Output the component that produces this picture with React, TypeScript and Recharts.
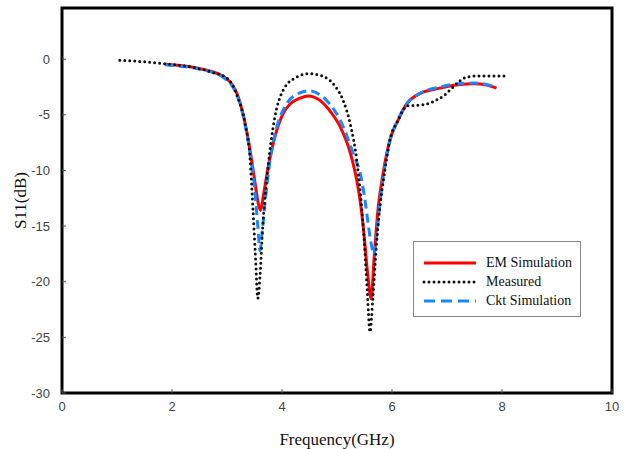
import {
  LineChart,
  Line,
  XAxis,
  YAxis,
  ReferenceArea,
  Label,
} from "recharts";

type Pt = { f: number; s11: number };

const xTicks = [0, 2, 4, 6, 8, 10];
const yTicks = [-30, -25, -20, -15, -10, -5, 0];

// [GHz, dB]
const emSimulation: [number, number][] = [
  [1.87, -0.45], [2.2, -0.6], [2.45, -0.8], [2.75, -1.15], [2.95, -1.6],
  [3.08, -2.2], [3.19, -3.2], [3.29, -4.9], [3.42, -8.2], [3.51, -11.1],
  [3.57, -13], [3.61, -13.6], [3.66, -12.3], [3.73, -10.2], [3.87, -7],
  [4.02, -4.9], [4.15, -4.0], [4.33, -3.5], [4.47, -3.3], [4.69, -3.7],
  [4.88, -4.7], [5.05, -6.0], [5.24, -8.4], [5.36, -10.9], [5.42, -12.7],
  [5.48, -15.2], [5.56, -19.4], [5.62, -21.5], [5.68, -17.5], [5.75, -13.3],
  [5.84, -10.2], [5.96, -7.3], [6.11, -5.5], [6.27, -4.0], [6.5, -3.1],
  [6.87, -2.6], [7.2, -2.3], [7.5, -2.2], [7.7, -2.3], [7.9, -2.6],
];

const measured: [number, number][] = [
  [1.05, -0.1], [1.4, -0.2], [1.84, -0.4], [2.45, -0.8], [2.75, -1.2],
  [3.0, -1.7], [3.1, -2.3], [3.2, -3.5], [3.33, -5.8], [3.42, -9],
  [3.47, -13.3], [3.52, -18], [3.56, -21.5], [3.6, -19.5], [3.65, -15],
  [3.72, -11], [3.78, -8.2], [3.87, -5.2], [4.02, -2.8], [4.27, -1.6],
  [4.5, -1.3], [4.72, -1.5], [4.93, -2.2], [5.11, -3.7], [5.24, -5.8],
  [5.36, -9.1], [5.42, -11.8], [5.48, -15.2], [5.55, -20.8], [5.6, -24.5],
  [5.65, -21.6], [5.72, -16.5], [5.78, -13.3], [5.87, -10], [5.96, -7.3],
  [6.11, -5.5], [6.27, -4.2], [6.56, -4.1], [6.8, -3.7], [6.96, -3.2],
  [7.09, -2.6], [7.2, -2.1], [7.36, -1.6], [7.6, -1.5], [8.05, -1.5],
];

const cktSimulation: [number, number][] = [
  [1.87, -0.5], [2.2, -0.65], [2.45, -0.85], [2.75, -1.2], [2.95, -1.7],
  [3.08, -2.3], [3.19, -3.3], [3.29, -5.0], [3.42, -8.5], [3.5, -11.5],
  [3.56, -15], [3.6, -17.2], [3.64, -15.5], [3.7, -12.5], [3.78, -9.2],
  [3.9, -6.2], [4.05, -4.3], [4.25, -3.2], [4.5, -2.85], [4.69, -3.2],
  [4.88, -4.1], [5.05, -5.4], [5.29, -8.4], [5.45, -10.9], [5.51, -12.7],
  [5.58, -15.3], [5.63, -16.8], [5.67, -17.6], [5.72, -15.8], [5.78, -13.0],
  [5.86, -10.0], [5.97, -7.2], [6.11, -5.4], [6.27, -4.0], [6.5, -3.1],
  [6.87, -2.5], [7.2, -2.2], [7.5, -2.15], [7.7, -2.25], [7.9, -2.55],
];

const toPts = (arr: [number, number][]): Pt[] =>
  arr.map(([f, s11]) => ({ f, s11 }));

const series = [
  { name: "EM Simulation", data: toPts(emSimulation), color: "#ff0000", dash: undefined as string | undefined },
  { name: "Ckt Simulation", data: toPts(cktSimulation), color: "#1a86ff", dash: "9 5" },
  { name: "Measured", data: toPts(measured), color: "#111111", dash: "0 5" },
];

const legendOrder = ["EM Simulation", "Measured", "Ckt Simulation"];

const serif = "'Liberation Serif', 'Times New Roman', serif";
const sans = "'Liberation Sans', Arial, sans-serif";

function LegendBox() {
  return (
    <div
      style={{
        position: "absolute",
        left: 413,
        top: 241,
        width: 168,
        height: 76,
        border: "1px solid #8a8a8a",
        background: "#fff",
        boxSizing: "border-box",
        paddingTop: 11,
      }}
    >
      {legendOrder.map((name) => {
        const s = series.find((x) => x.name === name)!;
        return (
          <div
            key={name}
            style={{ display: "flex", alignItems: "center", height: 19 }}
          >
            <svg width={64} height={10} style={{ marginLeft: 8 }}>
              <line
                x1={2}
                y1={5}
                x2={54}
                y2={5}
                stroke={s.color}
                strokeWidth={3}
                strokeDasharray={s.dash === "9 5" ? "11 6" : s.dash}
                strokeLinecap={s.dash === "0 5" ? "round" : "butt"}
              />
            </svg>
            <span style={{ fontFamily: serif, fontSize: 14, color: "#111" }}>
              {name}
            </span>
          </div>
        );
      })}
    </div>
  );
}

export default function App() {
  return (
    <div
      style={{
        position: "absolute",
        left: 0,
        top: 0,
        width: 627,
        height: 449,
        background: "#fff",
      }}
    >
      <LineChart
        width={627}
        height={449}
        margin={{ top: 8, right: 15, left: 0, bottom: 0 }}
      >
        <XAxis
          type="number"
          dataKey="f"
          domain={[0, 10]}
          ticks={xTicks}
          allowDataOverflow
          height={56}
          axisLine={false}
          tickSize={-4}
          tickMargin={13}
          tickLine={{ stroke: "#555" }}
          tick={{ fill: "#444", fontSize: 13, fontFamily: sans }}
        >
          <Label
            value="Frequency(GHz)"
            position="insideBottom"
            offset={4}
            style={{ fill: "#111", fontSize: 17, fontFamily: serif }}
          />
        </XAxis>
        <YAxis
          type="number"
          domain={[-30, 4.6]}
          ticks={yTicks}
          allowDataOverflow
          width={62}
          axisLine={false}
          tickSize={-4}
          tickMargin={16}
          tickLine={{ stroke: "#555" }}
          tick={{ fill: "#444", fontSize: 13, fontFamily: sans }}
        >
          <Label
            value="S11(dB)"
            angle={-90}
            position="center"
            dx={-11}
            style={{ fill: "#111", fontSize: 17, fontFamily: serif, textAnchor: "middle" }}
          />
        </YAxis>
        <ReferenceArea
          x1={0}
          x2={10}
          y1={-30}
          y2={4.6}
          fill="none"
          stroke="#000"
          strokeWidth={3}
          ifOverflow="extendDomain"
        />
        {series.map((s) => (
          <Line
            key={s.name}
            data={s.data}
            dataKey="s11"
            name={s.name}
            type="monotone"
            stroke={s.color}
            strokeWidth={3}
            strokeDasharray={s.dash}
            strokeLinecap={s.dash === "0 5" ? "round" : "butt"}
            dot={false}
            activeDot={false}
            isAnimationActive={false}
          />
        ))}
      </LineChart>
      <LegendBox />
    </div>
  );
}
